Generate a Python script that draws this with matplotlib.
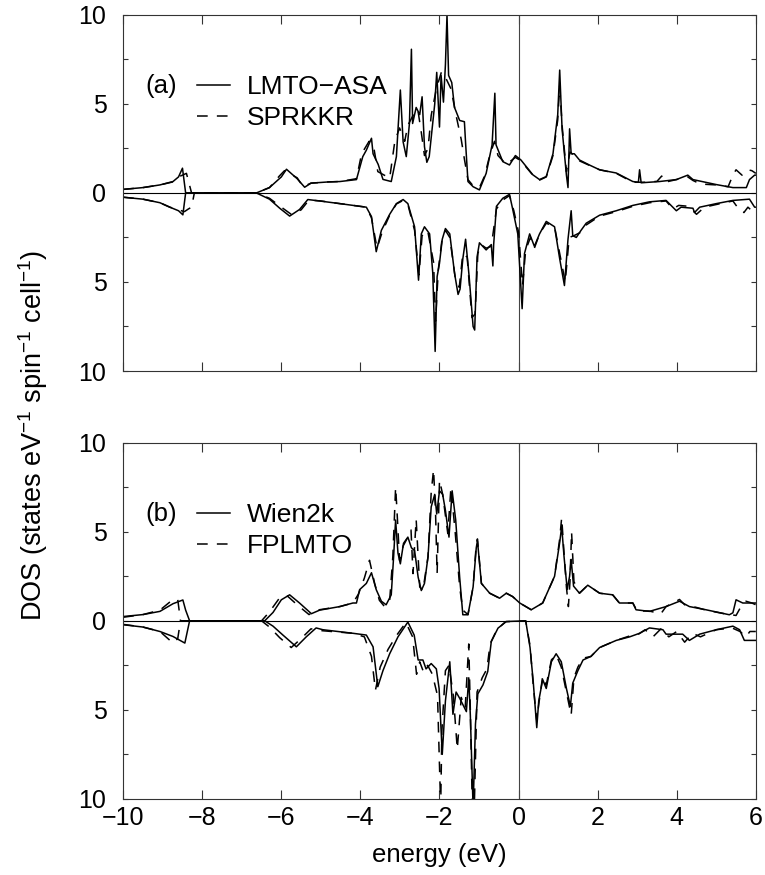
import numpy as np
import matplotlib
matplotlib.use("Agg")
import matplotlib.pyplot as plt
from matplotlib.ticker import FixedLocator, MultipleLocator

plt.rcParams['font.family'] = ['Liberation Sans', 'DejaVu Sans']
plt.rcParams['mathtext.fontset'] = 'custom'
plt.rcParams['mathtext.rm'] = 'Liberation Sans'

# ---- panel (a): LMTO-ASA (solid) vs SPRKKR (dashed) ----
# spin up
a_e_up = [-10.0, -9.5, -9.07, -8.74, -8.6, -8.50, -8.42, -8.3, -7.5, -6.63, -6.3, -6.0, -5.87,
          -5.6, -5.41, -5.25, -4.8, -4.52, -4.10, -3.94, -3.85, -3.72, -3.68, -3.55, -3.43, -3.22,
          -3.09, -2.99, -2.92, -2.84, -2.76, -2.71, -2.68, -2.59, -2.50, -2.44, -2.38, -2.32,
          -2.26, -2.12, -2.07, -2.00, -1.96, -1.90, -1.85, -1.81, -1.77, -1.69, -1.62, -1.49,
          -1.37, -1.34, -1.28, -1.15, -0.99, -0.82, -0.67, -0.60, -0.57, -0.40, -0.23, -0.08,
          0.06, 0.36, 0.53, 0.70, 0.87, 0.99, 1.04, 1.10, 1.21, 1.25, 1.29, 1.33, 1.41, 1.54,
          1.79, 2.05, 2.47, 2.89, 3.03, 3.06, 3.10, 3.56, 3.99, 4.28, 4.41, 5.0, 5.42, 5.76,
          5.84, 5.97, 6.0]
a_lmto_up = [0.2, 0.3, 0.45, 0.64, 0.9, 1.39, 0.0, 0.0, 0.0, 0.0, 0.3, 0.9, 1.33,
             0.8, 0.32, 0.55, 0.62, 0.64, 0.75, 2.04, 2.4, 3.07, 2.2, 1.6, 0.76, 0.64,
             2.04, 5.78, 2.87, 2.04, 3.9, 8.07, 3.9, 4.8, 4.4, 5.4, 2.6, 1.72,
             2.04, 5.0, 6.77, 3.7, 6.6, 5.1, 7.2, 10.0, 6.6, 6.2, 4.8, 4.07,
             4.0, 2.8, 0.64, 0.35, 0.17, 1.1, 2.7, 5.6, 2.7, 1.76, 1.57, 2.1,
             1.85, 1.02, 0.75, 0.92, 2.2, 4.4, 6.9, 3.6, 1.0, 0.3, 3.6, 2.2, 2.2, 1.85,
             1.57, 1.3, 1.12, 0.64, 0.6, 1.3, 0.57, 0.64, 0.75, 1.0, 0.75, 0.47, 0.3, 0.3,
             0.75, 1.0, 1.0]
a_e_up_d = [-10.0, -9.5, -9.07, -8.74, -8.55, -8.40, -8.27, -8.2, -7.5, -6.63, -6.3, -6.05,
            -5.92, -5.6, -5.45, -5.25, -4.8, -4.52, -4.10, -3.97, -3.78, -3.65, -3.56, -3.26,
            -3.13, -3.01, -2.88, -2.80, -2.67, -2.55, -2.46, -2.38, -2.29, -2.21, -2.08,
            -1.95, -1.83, -1.71, -1.58, -1.45, -1.37, -1.28, -1.15, -0.99, -0.86, -0.73,
            -0.61, -0.52, -0.31, -0.08, 0.06, 0.36, 0.53, 0.70, 0.87, 0.99, 1.04, 1.10,
            1.21, 1.30, 1.41, 1.54, 1.79, 2.05, 2.47, 2.89, 3.2, 3.5, 3.62, 3.7, 3.99, 4.28,
            4.41, 4.6, 5.0, 5.3, 5.42, 5.5, 5.65, 5.8, 5.9, 6.0]
a_kkr_up = [0.2, 0.3, 0.45, 0.62, 0.95, 1.1, 0.0, 0.0, 0.0, 0.0, 0.3, 0.95,
            1.25, 0.85, 0.35, 0.55, 0.62, 0.64, 0.8, 2.2, 2.9, 2.4, 1.2, 0.83,
            2.9, 3.65, 2.9, 3.8, 4.35, 4.7, 3.4, 2.1, 2.5, 4.35, 5.85,
            6.8, 6.4, 5.85, 4.35, 3.0, 1.9, 0.75, 0.4, 0.3, 0.95, 2.1,
            2.9, 2.1, 1.6, 2.0, 1.8, 1.0, 0.72, 0.9, 2.1, 4.1, 6.0, 3.8,
            1.2, 2.3, 2.1, 1.8, 1.55, 1.3, 1.1, 0.6, 0.6, 0.65, 0.95, 0.6, 0.75, 0.9,
            0.7, 0.5, 0.45, 0.35, 1.0, 1.3, 1.0, 1.3, 1.25, 1.1]
# spin down (magnitudes)
a_e_dn = [-10.0, -9.5, -9.07, -8.82, -8.6, -8.49, -8.42, -8.3, -7.5, -6.63, -6.3, -6.04,
          -5.79, -5.54, -5.33, -5.04, -4.52, -3.85, -3.72, -3.60, -3.47, -3.26, -3.09, -2.92,
          -2.80, -2.63, -2.53, -2.46, -2.38, -2.25, -2.17, -2.11, -2.06, -2.00, -1.93, -1.85,
          -1.74, -1.62, -1.53, -1.48, -1.41, -1.34, -1.25, -1.15, -1.11, -1.05, -0.99, -0.82,
          -0.69, -0.65, -0.63, -0.56, -0.40, -0.23, -0.15, -0.02, 0.09, 0.15, 0.28, 0.40,
          0.53, 0.70, 0.91, 1.04, 1.16, 1.25, 1.33, 1.37, 1.46, 1.58, 1.71, 2.05, 2.47, 2.89,
          3.31, 3.73, 3.99, 4.11, 4.41, 4.45, 4.58, 5.0, 5.42, 5.84, 5.97, 6.0]
a_lmto_dn = [0.24, 0.35, 0.55, 0.8, 1.0, 1.23, 0.0, 0.0, 0.0, 0.0, 0.35, 0.86,
             1.3, 0.93, 0.37, 0.45, 0.6, 0.8, 1.33, 3.3, 2.1, 1.2, 0.6, 0.37,
             0.6, 1.9, 4.9, 2.3, 1.9, 2.3, 4.5, 8.9, 4.7, 3.95, 2.6, 2.0,
             2.3, 4.5, 5.7, 5.4, 3.7, 2.6, 4.7, 7.5, 7.7, 3.6, 2.8, 3.2,
             2.9, 4.1, 2.9, 0.75, 0.3, 0.08, 0.9, 2.3, 6.5, 3.4, 2.3, 3.0,
             2.3, 1.6, 1.9, 3.7, 5.2, 2.6, 1.0, 2.4, 2.5, 2.1, 1.7, 1.25, 1.0, 0.7,
             0.5, 0.42, 1.0, 0.8, 0.86, 1.1, 0.8, 0.6, 0.42, 0.35, 0.8, 0.8]
a_e_dn_d = [-10.0, -9.5, -9.07, -8.82, -8.6, -8.45, -8.35, -8.27, -8.2, -7.5, -6.63, -6.3,
            -6.0, -5.75, -5.5, -5.3, -5.0, -4.52, -3.85, -3.72, -3.58, -3.45, -3.26, -3.09,
            -2.92, -2.80, -2.63, -2.52, -2.44, -2.30, -2.15, -2.10, -2.03, -1.93, -1.85,
            -1.74, -1.60, -1.50, -1.41, -1.30, -1.18, -1.10, -1.03, -0.95, -0.82, -0.69,
            -0.56, -0.40, -0.23, -0.12, 0.0, 0.10, 0.18, 0.30, 0.40, 0.53, 0.70, 0.91, 1.04,
            1.18, 1.28, 1.40, 1.58, 1.71, 2.05, 2.47, 2.89, 3.31, 3.73, 3.9, 4.05, 4.3, 4.5,
            4.7, 5.0, 5.42, 5.6, 5.7, 5.8, 5.9, 6.0]
a_kkr_dn = [0.24, 0.35, 0.55, 0.8, 0.95, 1.05, 0.9, 0.8, 0.0, 0.0, 0.0, 0.3,
            0.8, 1.2, 0.95, 0.4, 0.45, 0.6, 0.8, 1.4, 3.1, 2.2, 1.25, 0.62,
            0.42, 0.65, 2.1, 4.6, 2.4, 2.1, 3.9, 7.2, 4.3, 2.5, 2.1,
            2.5, 4.8, 5.3, 3.4, 3.6, 7.0, 6.8, 3.4, 2.9, 3.1, 3.0,
            0.9, 0.4, 0.15, 1.0, 2.2, 5.2, 3.2, 2.5, 3.1, 2.3, 1.7, 1.9, 3.4,
            5.0, 2.5, 2.4, 2.2, 1.8, 1.3, 1.05, 0.75, 0.55, 0.45, 0.9, 0.7, 0.75, 1.2,
            0.8, 0.65, 0.45, 1.0, 1.1, 0.8, 1.0, 0.9]

# ---- panel (b): Wien2k (solid) vs FPLMTO (dashed) ----
b_e_up = [-10.0, -9.5, -9.07, -8.74, -8.49, -8.42, -8.32, -7.5, -6.42, -6.21, -6.0, -5.79,
          -5.54, -5.24, -5.03, -4.52, -4.19, -4.10, -4.02, -3.85, -3.72, -3.60, -3.47, -3.35,
          -3.22, -3.16, -3.11, -3.05, -2.99, -2.91, -2.80, -2.71, -2.63, -2.54, -2.46, -2.38,
          -2.29, -2.21, -2.12, -2.07, -2.00, -1.92, -1.85, -1.76, -1.68, -1.59, -1.49, -1.41,
          -1.28, -1.15, -1.07, -1.04, -0.94, -0.73, -0.48, -0.31, -0.15, 0.03, 0.32, 0.61,
          0.91, 1.04, 1.09, 1.15, 1.23, 1.29, 1.33, 1.39, 1.54, 1.75, 2.05, 2.38, 2.55, 2.89,
          2.97, 3.31, 3.73, 4.07, 4.32, 4.74, 5.33, 5.42, 5.50, 5.67, 5.97, 6.0]
b_wien_up = [0.24, 0.35, 0.53, 0.96, 1.17, 0.6, 0.0, 0.0, 0.0, 0.47, 1.18, 1.46,
             1.0, 0.4, 0.6, 0.8, 1.0, 1.0, 1.75, 2.1, 2.7, 1.75, 1.1, 0.9,
             1.46, 3.6, 5.66, 3.8, 3.2, 4.35, 4.7, 4.1, 3.95, 2.45, 1.7, 2.1,
             3.6, 6.4, 7.1, 6.0, 7.3, 7.1, 6.2, 4.7, 7.3, 5.66, 2.45, 0.34,
             0.34, 1.9, 4.1, 4.5, 2.1, 1.55, 1.27, 1.55, 1.36, 1.0, 0.62, 1.0,
             2.5, 4.4, 5.3, 3.6, 1.76, 2.5, 3.45, 1.95, 1.55, 2.0, 1.55, 1.46, 1.0, 1.0,
             0.62, 0.53, 0.8, 1.1, 0.8, 0.62, 0.34, 0.45, 1.18, 1.0, 1.0, 1.0]
b_e_up_d = [-10.0, -9.5, -9.07, -8.85, -8.74, -8.62, -8.55, -7.5, -6.5, -6.3, -6.04, -5.85,
            -5.6, -5.3, -5.1, -4.52, -4.19, -4.05, -3.90, -3.77, -3.64, -3.52, -3.39, -3.26,
            -3.18, -3.11, -3.08, -3.01, -2.92, -2.80, -2.72, -2.67, -2.59, -2.50, -2.42, -2.29,
            -2.21, -2.15, -2.10, -2.06, -2.00, -1.92, -1.79, -1.71, -1.60, -1.49, -1.41, -1.28,
            -1.15, -1.07, -1.04, -0.94, -0.73, -0.48, -0.31, -0.15, 0.03, 0.32, 0.61, 0.91,
            1.04, 1.09, 1.15, 1.21, 1.26, 1.30, 1.34, 1.40, 1.54, 1.75, 2.05, 2.38, 2.55, 2.89,
            3.0, 3.3, 3.6, 3.73, 4.07, 4.2, 4.5, 4.74, 5.2, 5.5, 5.6, 5.75, 5.9, 6.0]
b_fplmto_up = [0.2, 0.35, 0.6, 1.0, 1.2, 1.2, 0.0, 0.0, 0.0, 0.5, 1.3, 1.4,
               0.9, 0.35, 0.6, 0.8, 1.0, 1.5, 2.4, 3.4, 2.1, 1.15, 0.8, 1.15,
               3.6, 7.5, 6.4, 3.4, 4.2, 4.7, 5.1, 2.65, 5.7, 1.9, 1.7, 3.6,
               7.2, 8.5, 6.1, 2.65, 7.9, 7.1, 4.9, 7.5, 4.9, 1.9, 0.6, 0.35,
               1.9, 4.3, 4.6, 2.1, 1.55, 1.27, 1.55, 1.36, 1.0, 0.62, 1.0, 2.5,
               4.6, 5.8, 3.8, 1.9, 0.8, 2.2, 5.0, 2.2, 1.55, 2.0, 1.55, 1.46, 1.0, 1.0,
               0.55, 0.55, 0.4, 0.8, 1.2, 0.9, 0.75, 0.6, 0.4, 0.3, 0.7, 1.1, 1.0, 0.9]
b_e_dn = [-10.0, -9.5, -9.07, -8.74, -8.44, -8.32, -7.5, -6.42, -6.21, -5.96, -5.62, -5.37,
          -5.12, -4.95, -4.19, -3.85, -3.68, -3.56, -3.43, -3.26, -3.05, -2.80, -2.64, -2.54,
          -2.42, -2.34, -2.21, -2.08, -2.01, -1.93, -1.85, -1.74, -1.66, -1.58, -1.49, -1.41,
          -1.32, -1.26, -1.22, -1.15, -1.09, -1.03, -0.90, -0.78, -0.69, -0.52, -0.31, 0.18,
          0.29, 0.37, 0.46, 0.51, 0.61, 0.70, 0.83, 0.95, 1.08, 1.21, 1.31, 1.37, 1.50, 1.63,
          1.83, 2.05, 2.47, 2.81, 3.06, 3.31, 3.65, 3.73, 4.15, 4.32, 4.58, 5.0, 5.42, 5.59,
          5.71, 5.97, 6.0]
b_wien_dn = [0.22, 0.35, 0.6, 0.88, 1.25, 0.0, 0.0, 0.0, 0.3, 0.8, 1.46, 0.9,
             0.4, 0.5, 0.7, 0.8, 1.46, 3.7, 2.8, 1.85, 0.9, 0.07, 0.8, 2.2,
             2.2, 2.7, 2.4, 2.7, 3.8, 7.5, 4.5, 2.3, 5.25, 4.0, 4.35, 4.7,
             5.1, 3.2, 5.3, 10.5, 5.8, 4.1, 3.6, 2.85, 1.16, 0.41, 0.04, 0.0,
             1.5, 3.4, 6.0, 4.5, 3.3, 3.8, 2.3, 1.85, 2.3, 3.8, 4.8, 3.5, 2.8, 2.2,
             2.0, 1.5, 1.1, 0.9, 0.7, 0.4, 0.5, 0.75, 0.75, 1.1, 0.75, 0.5, 0.3, 0.5,
             1.1, 1.1, 1.1]
b_e_dn_d = [-10.0, -9.5, -9.07, -8.74, -8.62, -8.55, -7.5, -6.5, -6.3, -6.04, -5.75, -5.5,
            -5.25, -5.0, -4.19, -3.90, -3.72, -3.62, -3.50, -3.30, -3.08, -2.85, -2.68, -2.58,
            -2.50, -2.40, -2.30, -2.18, -2.05, -1.97, -1.94, -1.85, -1.76, -1.65, -1.55, -1.45,
            -1.35, -1.26, -1.22, -1.17, -1.12, -1.05, -0.92, -0.80, -0.72, -0.55, -0.33, 0.18,
            0.29, 0.37, 0.46, 0.51, 0.61, 0.70, 0.83, 0.95, 1.08, 1.21, 1.33, 1.40, 1.50, 1.63,
            1.83, 2.05, 2.47, 2.81, 3.0, 3.2, 3.4, 3.6, 3.8, 4.0, 4.2, 4.4, 4.6, 5.0, 5.4,
            5.6, 5.75, 5.85, 6.0]
b_fplmto_dn = [0.2, 0.35, 0.6, 1.25, 1.0, 0.0, 0.0, 0.0, 0.35, 0.95, 1.5, 1.0,
               0.45, 0.55, 0.7, 0.9, 2.0, 3.9, 2.6, 1.6, 0.8, 0.1, 0.9, 3.0,
               2.3, 2.9, 2.5, 3.0, 4.2, 10.5, 6.2, 2.8, 2.5, 4.2, 7.2, 4.3,
               4.9, 1.3, 5.0, 10.5, 10.5, 4.0, 3.2, 2.7, 1.3, 0.5, 0.05, 0.0,
               1.4, 3.6, 5.6, 4.7, 3.1, 3.6, 2.2, 1.9, 2.6, 4.0, 5.3, 3.2, 2.6, 2.1,
               2.0, 1.5, 1.1, 0.85, 0.8, 0.5, 0.9, 0.45, 0.9, 0.6, 1.2, 0.7, 0.9, 0.5, 0.4,
               0.6, 0.9, 0.6, 0.6]

x_ticks = [-10, -8, -6, -4, -2, 0, 2, 4, 6]
y_ticks = [-10, -5, 0, 5, 10]
y_ticklabels = ['10', '5', '0', '5', '10']

fig = plt.figure(figsize=(7.65, 8.75), dpi=100)
ax_a = fig.add_axes([0.161, 0.576, 0.827, 0.407])
ax_b = fig.add_axes([0.161, 0.087, 0.827, 0.407])

panels = [
    (ax_a, '(a)', 'LMTO\u2212ASA', 'SPRKKR',
     (a_e_up, a_lmto_up), (a_e_dn, a_lmto_dn), (a_e_up_d, a_kkr_up), (a_e_dn_d, a_kkr_dn)),
    (ax_b, '(b)', 'Wien2k', 'FPLMTO',
     (b_e_up, b_wien_up), (b_e_dn, b_wien_dn), (b_e_up_d, b_fplmto_up), (b_e_dn_d, b_fplmto_dn)),
]

dash = (7, 6)
for ax, tag, lab1, lab2, s_up, s_dn, d_up, d_dn in panels:
    ax.axhline(0, color='black', lw=0.8)
    ax.axvline(0, color='#444444', lw=0.8)
    l1, = ax.plot(s_up[0], s_up[1], color='black', lw=1.1)
    ax.plot(s_dn[0], -np.array(s_dn[1]), color='black', lw=1.1)
    l2, = ax.plot(d_up[0], d_up[1], color='black', lw=1.1, dashes=dash)
    ax.plot(d_dn[0], -np.array(d_dn[1]), color='black', lw=1.1, dashes=dash)

    ax.set_xlim(-10, 6)
    ax.set_ylim(-10, 10)
    ax.xaxis.set_major_locator(FixedLocator(x_ticks))
    ax.yaxis.set_major_locator(FixedLocator(y_ticks))
    ax.set_yticklabels(y_ticklabels)
    ax.yaxis.set_minor_locator(MultipleLocator(2.5))
    ax.tick_params(which='both', direction='in', top=True, right=True, labelsize=18,
                   color='#333333', width=0.8)
    ax.tick_params(axis='x', length=6.5, pad=5)
    ax.tick_params(axis='y', which='both', length=3.6, pad=12)
    for sp in ax.spines.values():
        sp.set_color('#333333')
        sp.set_linewidth(0.8)

    ax.text(0.035, 0.80, tag, transform=ax.transAxes, fontsize=18.5, va='center', ha='left')
    ax.legend([l1, l2], [lab1, lab2], loc='upper left', bbox_to_anchor=(0.117, 0.83),
              frameon=False, fontsize=19, handlelength=1.25, handletextpad=0.65,
              labelspacing=0.26, borderpad=0, borderaxespad=0)

ax_a.tick_params(axis='x', labelbottom=False)

fig.text(0.043, 0.503, 'DOS (states eV$^{-1}$ spin$^{-1}$ cell$^{-1}$)', rotation=90,
         fontsize=19.5, ha='center', va='center')
fig.text(0.574, 0.023, 'energy (eV)', fontsize=18.5, ha='center', va='center')

fig.savefig('out.png', dpi=100)
